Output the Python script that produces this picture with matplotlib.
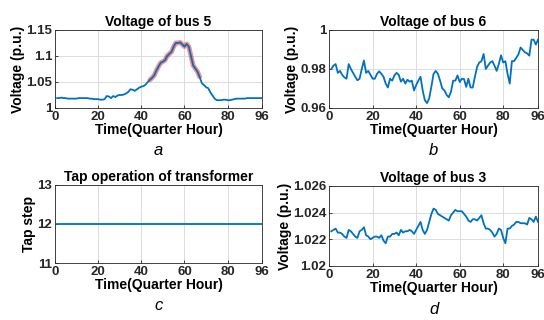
import numpy as np
import matplotlib.pyplot as plt

plt.rcParams['font.family'] = ['Liberation Sans', 'DejaVu Sans']

# time steps (quarter hours)
t = np.arange(1, 97)

bus5 = [1.019, 1.019, 1.020, 1.019, 1.019, 1.018, 1.018, 1.018, 1.018, 1.018,
        1.019, 1.019, 1.019, 1.019, 1.019, 1.018, 1.018, 1.017, 1.017, 1.017,
        1.016, 1.016, 1.017, 1.023, 1.022, 1.019, 1.023, 1.021, 1.024, 1.025,
        1.025, 1.026, 1.028, 1.031, 1.036, 1.035, 1.033, 1.036, 1.039, 1.041,
        1.042, 1.045, 1.050, 1.054, 1.058, 1.063, 1.072, 1.080, 1.087, 1.089,
        1.092, 1.100, 1.104, 1.108, 1.118, 1.125, 1.125, 1.126, 1.122, 1.118,
        1.123, 1.118, 1.100, 1.082, 1.076, 1.070, 1.060, 1.048, 1.044, 1.040,
        1.038, 1.030, 1.024, 1.018, 1.015, 1.015, 1.015, 1.016, 1.016, 1.015,
        1.015, 1.016, 1.017, 1.018, 1.018, 1.018, 1.018, 1.018, 1.019, 1.019,
        1.019, 1.019, 1.019, 1.019, 1.019, 1.019]

bus6 = [0.9800, 0.9817, 0.9825, 0.9780, 0.9790, 0.9770, 0.9757, 0.9750, 0.9825, 0.9800,
        0.9780, 0.9760, 0.9742, 0.9750, 0.9800, 0.9843, 0.9780, 0.9790, 0.9770, 0.9750,
        0.9750, 0.9775, 0.9788, 0.9775, 0.9760, 0.9725, 0.9705, 0.9750, 0.9740, 0.9767,
        0.9780, 0.9770, 0.9735, 0.9750, 0.9725, 0.9745, 0.9735, 0.9740, 0.9690, 0.9717,
        0.9740, 0.9760, 0.9690, 0.9640, 0.9625, 0.9650, 0.9710, 0.9775, 0.9790, 0.9775,
        0.9740, 0.9700, 0.9690, 0.9667, 0.9655, 0.9683, 0.9740, 0.9740, 0.9767, 0.9733,
        0.9750, 0.9748, 0.9708, 0.9750, 0.9705, 0.9705, 0.9760, 0.9810, 0.9833, 0.9840,
        0.9877, 0.9800, 0.9817, 0.9833, 0.9840, 0.9817, 0.9790, 0.9825, 0.9870, 0.9833,
        0.9840, 0.9775, 0.9725, 0.9840, 0.9840, 0.9857, 0.9875, 0.9910, 0.9897, 0.9885,
        0.9880, 0.9868, 0.9950, 0.9950, 0.9925, 0.9950]

tap = [12] * 96

bus3 = [1.0226, 1.0227, 1.0228, 1.0225, 1.0225, 1.0224, 1.0222, 1.0221, 1.0227, 1.0226,
        1.0224, 1.0222, 1.0221, 1.0226, 1.0227, 1.0229, 1.0223, 1.0222, 1.0220, 1.0221,
        1.0222, 1.0222, 1.0221, 1.0223, 1.0219, 1.0217, 1.0222, 1.0222, 1.0224, 1.0224,
        1.0225, 1.0223, 1.0227, 1.0225, 1.0226, 1.0226, 1.0227, 1.0226, 1.0224, 1.0227,
        1.0230, 1.0233, 1.0227, 1.0224, 1.0227, 1.0233, 1.0239, 1.0243, 1.0242, 1.0239,
        1.0238, 1.0237, 1.0236, 1.0235, 1.0234, 1.0238, 1.0240, 1.0242, 1.0241, 1.0241,
        1.0241, 1.0239, 1.0237, 1.0234, 1.0233, 1.0235, 1.0235, 1.0234, 1.0236, 1.0238,
        1.0232, 1.0228, 1.0228, 1.0227, 1.0225, 1.0222, 1.0224, 1.0228, 1.0227, 1.0221,
        1.0217, 1.0228, 1.0228, 1.0230, 1.0231, 1.0233, 1.0233, 1.0232, 1.0232, 1.0232,
        1.0231, 1.0236, 1.0235, 1.0233, 1.0237, 1.0233]

blue = '#0072BD'
xticks = [0, 20, 40, 60, 80, 96]

fig = plt.figure(figsize=(5.44, 3.2), dpi=100)
ax_a = fig.add_axes([0.101, 0.6625, 0.381, 0.244])
ax_b = fig.add_axes([0.605, 0.6625, 0.384, 0.244])
ax_c = fig.add_axes([0.101, 0.178, 0.381, 0.244])
ax_d = fig.add_axes([0.605, 0.169, 0.384, 0.25])


def style(ax, title, ylabel):
    ax.set_xlim(0, 96)
    ax.set_xticks(xticks)
    ax.grid(True, color='#dcdcdc', linewidth=0.7)
    ax.set_axisbelow(True)
    ax.tick_params(direction='in', length=2, width=0.6, colors='#262626',
                   labelsize=9.5, pad=2)
    for lab in ax.get_xticklabels() + ax.get_yticklabels():
        lab.set_fontweight('bold')
    for s in ax.spines.values():
        s.set_color('#262626')
        s.set_linewidth(0.6)
    ax.set_title(title, fontsize=10, fontweight='bold', pad=3)
    ax.set_xlabel('Time(Quarter Hour)', fontsize=10, fontweight='bold', labelpad=0)
    ax.set_ylabel(ylabel, fontsize=10, fontweight='bold', labelpad=1)


# a: bus 5 with over-voltage highlighted
v5 = np.array(bus5)
over = np.where(v5 > 1.05, v5, np.nan)
ax_a.plot(t, over, color='red', linewidth=3.5, alpha=0.45, solid_capstyle='round')
ax_a.plot(t, v5, color=blue, linewidth=1.3)
ax_a.set_ylim(1, 1.15)
ax_a.set_yticks([1, 1.05, 1.1, 1.15])
ax_a.set_yticklabels(['1', '1.05', '1.1', '1.15'])
style(ax_a, 'Voltage of bus 5', 'Voltage (p.u.)')

# b: bus 6
ax_b.plot(t, bus6, color=blue, linewidth=1.3)
ax_b.set_ylim(0.96, 1.0)
ax_b.set_yticks([0.96, 0.98, 1.0])
ax_b.set_yticklabels(['0.96', '0.98', '1'])
style(ax_b, 'Voltage of bus 6', 'Voltage (p.u.)')

# c: tap position
ax_c.plot(t, tap, color=blue, linewidth=1.3)
ax_c.set_ylim(11, 13)
ax_c.set_yticks([11, 12, 13])
style(ax_c, 'Tap operation of transformer', 'Tap step')

# d: bus 3
ax_d.plot(t, bus3, color=blue, linewidth=1.3)
ax_d.set_ylim(1.02, 1.026)
ax_d.set_yticks([1.02, 1.022, 1.024, 1.026])
ax_d.set_yticklabels(['1.02', '1.022', '1.024', '1.026'])
style(ax_d, 'Voltage of bus 3', 'Voltage (p.u.)')

for ax, letter in zip([ax_a, ax_b, ax_c, ax_d], 'abcd'):
    ax.text(0.5, -0.54, letter, transform=ax.transAxes, ha='center', va='center',
            fontsize=12, style='italic')

fig.savefig('out.png', dpi=100)
